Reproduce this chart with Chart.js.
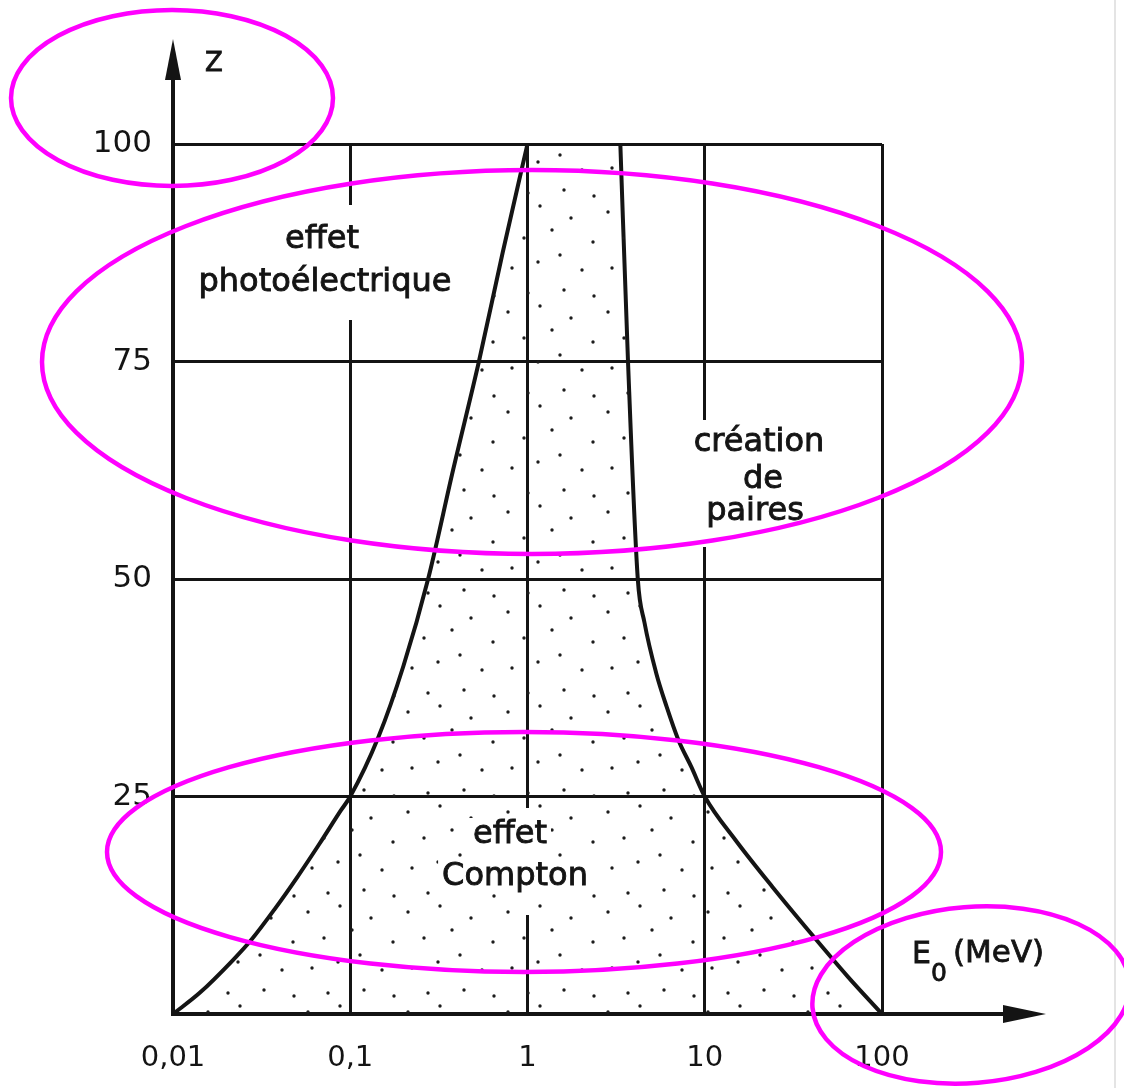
<!DOCTYPE html>
<html>
<head>
<meta charset="utf-8">
<title>Domaines d'interaction des photons</title>
<script src="https://cdn.jsdelivr.net/npm/chart.js@4.4.1/dist/chart.umd.min.js"></script>
<style>
  html, body { margin: 0; padding: 0; background: #fff; }
  canvas { display: block; }
</style>
</head>
<body>
<canvas id="chart" width="1124" height="1088"></canvas>
<script>
// tick labels
const energyTicks = [0.01, 0.1, 1, 10, 100];
const zTicks = [25, 50, 75, 100];

// limit photoelectric / Compton (E0 in MeV, Z)
const photoE = [0.01, 0.0141, 0.0218, 0.0276, 0.0373, 0.0505, 0.0672, 0.0885, 0.1, 0.144, 0.1995, 0.275, 0.38, 0.532, 0.724, 1];
const photoZ = [0, 2.4, 6.2, 8.5, 12.0, 15.8, 19.6, 23.4, 25, 31.8, 40, 50, 62.5, 75, 87.5, 100];

// limit Compton / pair creation
const pairE = [3.34, 3.69, 4.19, 4.57, 5.32, 6.10, 7.10, 8.40, 10, 14.9, 24.1, 41.1, 64.1, 100];
const pairZ = [100, 75, 50, 45, 39.2, 35.3, 31.5, 28.4, 25, 20, 14.6, 8.9, 4.3, 0];

const INK = '#141414';
const FONT = "'DejaVu Sans', sans-serif";

function toPoints(xs, ys) {
  return xs.map((x, i) => ({ x: x, y: ys[i] }));
}

// stipple used for the Compton region
function dotPattern() {
  const c = document.createElement('canvas');
  c.width = 100; c.height = 100;
  const g = c.getContext('2d');
  g.fillStyle = '#1c1c1c';
  [[8, 12], [40, 6], [71, 18], [93, 42], [24, 38], [52, 30], [60, 55], [12, 68],
   [38, 62], [82, 70], [64, 90], [28, 93], [94, 96]].forEach(([x, y]) => {
    g.beginPath();
    g.arc(x, y, 1.7, 0, Math.PI * 2);
    g.fill();
  });
  return g.createPattern(c, 'repeat');
}

function boldText(ctx, t, x, y) {
  ctx.fillText(t, x, y);
  ctx.strokeText(t, x, y);
}

const drawExtras = {
  id: 'drawExtras',
  afterDraw(chart) {
    const ctx = chart.ctx;
    const area = chart.chartArea;
    const sx = chart.scales.x;
    ctx.save();

    // gaps in the grid lines next to the labels
    ctx.fillStyle = '#fff';
    [[0.1, 205, 320], [10, 420, 547], [1, 808, 915]].forEach(([v, y0, y1]) => {
      const px = sx.getPixelForValue(v);
      ctx.fillRect(px - 5, y0, 10, y1 - y0);
    });

    const labels = [
      ['effet', 322, 240], ['photoélectrique', 325, 283],
      ['création', 759, 443], ['de', 763, 480], ['paires', 755, 512],
      ['effet', 510, 835], ['Compton', 515, 877]
    ];
    ctx.font = '32px ' + FONT;
    ctx.textAlign = 'center';
    ctx.textBaseline = 'middle';
    ctx.lineWidth = 0.9;
    ctx.strokeStyle = INK;
    labels.forEach(([t, x, y]) => {
      const w = ctx.measureText(t).width;
      ctx.fillStyle = '#fff';
      ctx.fillRect(x - w / 2 - 4, y - 17, w + 8, 34);
      ctx.fillStyle = INK;
      boldText(ctx, t, x, y);
    });

    // axis arrows
    ctx.strokeStyle = INK;
    ctx.fillStyle = INK;
    ctx.lineWidth = 4;
    ctx.beginPath();
    ctx.moveTo(area.left, area.top);
    ctx.lineTo(area.left, 70);
    ctx.moveTo(area.right, area.bottom);
    ctx.lineTo(1010, area.bottom);
    ctx.stroke();
    ctx.beginPath();
    ctx.moveTo(area.left, 39);
    ctx.lineTo(area.left - 8, 80);
    ctx.lineTo(area.left + 8, 80);
    ctx.closePath();
    ctx.fill();
    ctx.beginPath();
    ctx.moveTo(1046, area.bottom);
    ctx.lineTo(1003, area.bottom - 9);
    ctx.lineTo(1003, area.bottom + 9);
    ctx.closePath();
    ctx.fill();

    // axis names
    ctx.textAlign = 'left';
    ctx.textBaseline = 'alphabetic';
    ctx.lineWidth = 0.8;
    ctx.font = '26px ' + FONT;
    boldText(ctx, 'Z', 205, 71);
    ctx.font = '30px ' + FONT;
    boldText(ctx, 'E', 912, 963);
    ctx.font = '25px ' + FONT;
    boldText(ctx, '0', 931, 981);
    ctx.font = '31px ' + FONT;
    boldText(ctx, '(MeV)', 953, 962);

    // page edge
    ctx.strokeStyle = '#e4e4e4';
    ctx.lineWidth = 2;
    ctx.beginPath();
    ctx.moveTo(1115, 0);
    ctx.lineTo(1115, chart.height);
    ctx.stroke();

    // magenta highlight ellipses
    ctx.strokeStyle = '#ff00ff';
    ctx.lineWidth = 4.5;
    [[172, 98, 161, 88, 0], [532, 362, 490, 192, 0], [524, 852, 417, 120, 0], [971, 995, 159, 88, -0.08]]
      .forEach(([cx, cy, rx, ry, rot]) => {
        ctx.beginPath();
        ctx.ellipse(cx, cy, rx, ry, rot, 0, Math.PI * 2);
        ctx.stroke();
      });
    ctx.restore();
  }
};

const ctx = document.getElementById('chart').getContext('2d');
const lineStyle = {
  showLine: true,
  fill: false,
  borderColor: INK,
  borderWidth: 4,
  pointRadius: 0,
  cubicInterpolationMode: 'monotone'
};

new Chart(ctx, {
  type: 'scatter',
  data: {
    datasets: [
      {
        label: 'effet Compton',
        data: toPoints(photoE.concat(pairE), photoZ.concat(pairZ)),
        showLine: true,
        fill: 'origin',
        backgroundColor: dotPattern(),
        borderWidth: 0,
        pointRadius: 0,
        cubicInterpolationMode: 'monotone'
      },
      Object.assign({ label: 'photo / Compton', data: toPoints(photoE, photoZ) }, lineStyle),
      Object.assign({ label: 'Compton / paires', data: toPoints(pairE, pairZ) }, lineStyle)
    ]
  },
  options: {
    responsive: false,
    animation: false,
    devicePixelRatio: 1,
    layout: { padding: { left: 0, top: 144, right: 242, bottom: 0 } },
    plugins: {
      legend: { display: false },
      tooltip: { enabled: false }
    },
    scales: {
      x: {
        type: 'logarithmic',
        min: 0.01,
        max: 100,
        afterBuildTicks: (scale) => { scale.ticks = energyTicks.map(v => ({ value: v })); },
        afterFit: (scale) => { scale.height = 74; },
        ticks: {
          color: INK,
          padding: 27,
          maxRotation: 0,
          font: { family: FONT, size: 29 },
          callback: (v) => String(v).replace('.', ',')
        },
        grid: { color: INK, lineWidth: 3, drawTicks: false },
        border: { display: true, color: INK, width: 4 }
      },
      y: {
        min: 0,
        max: 100,
        afterBuildTicks: (scale) => { scale.ticks = zTicks.map(v => ({ value: v })); },
        afterFit: (scale) => { scale.width = 173; },
        ticks: {
          color: INK,
          padding: 21,
          font: { family: FONT, size: 31 }
        },
        grid: { color: INK, lineWidth: 3, drawTicks: false },
        border: { display: true, color: INK, width: 4 }
      }
    }
  },
  plugins: [drawExtras]
});
</script>
</body>
</html>
